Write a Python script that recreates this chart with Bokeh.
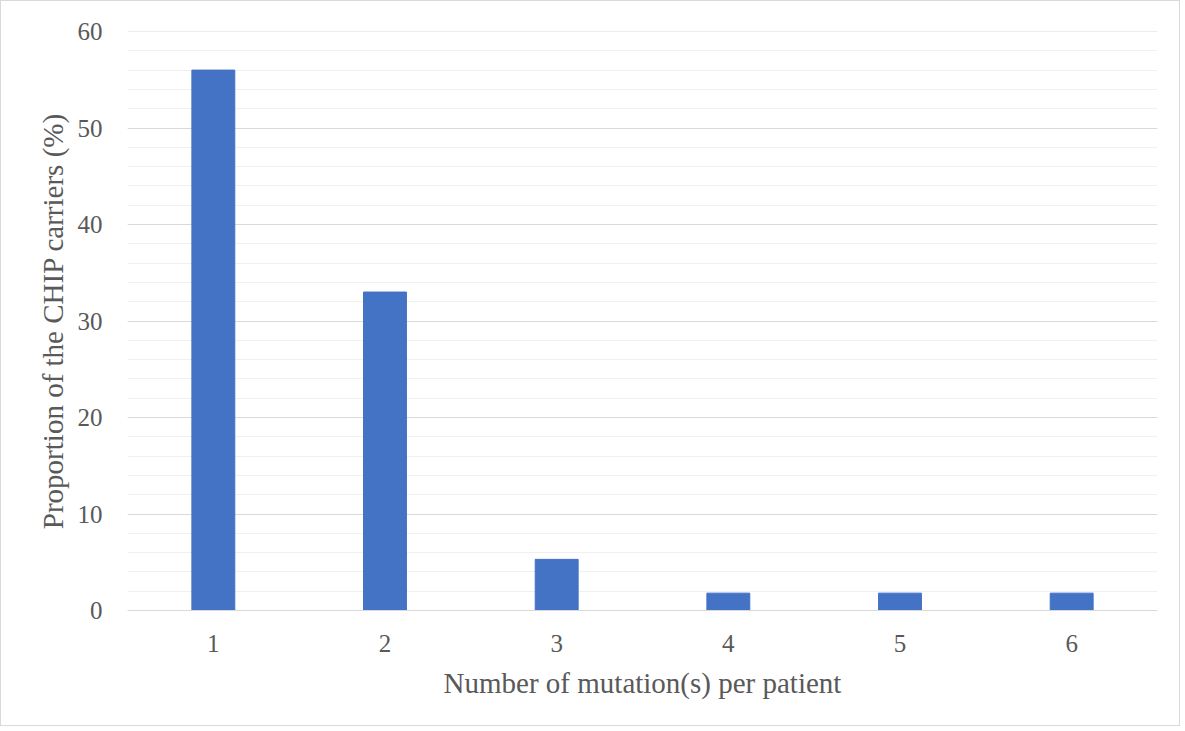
from bokeh.plotting import figure
from bokeh.models import SingleIntervalTicker, Range1d, FactorRange, Span
from bokeh.embed import file_html
from bokeh.resources import INLINE

categories = ["1", "2", "3", "4", "5", "6"]
values = [56, 33, 5.3, 1.8, 1.8, 1.8]

FONT = "Liberation Serif"
TXT = "#595959"

p = figure(width=1180, height=726, x_range=FactorRange(*categories),
           y_range=Range1d(0, 60), output_backend="svg", toolbar_location=None,
           min_border_left=126, min_border_right=24, min_border_top=30, min_border_bottom=117)
p.x_range.range_padding = 0
p.x_range.factor_padding = 0

p.vbar(x=categories, top=values, width=0.25, color="#4472C4")

p.outline_line_color = None
p.border_fill_color = "white"
p.styles = {"border": "1px solid #d9d9d9"}

p.xgrid.grid_line_color = None
p.yaxis.ticker = SingleIntervalTicker(interval=10, num_minor_ticks=5)
p.ygrid.grid_line_color = "#d9d9d9"
p.ygrid.grid_line_width = 1
p.ygrid.minor_grid_line_color = "#f0f0f0"
p.add_layout(Span(location=60, dimension="width", line_color="#d9d9d9", line_width=1))

for ax in (p.xaxis, p.yaxis):
    ax.major_tick_line_color = None
    ax.minor_tick_line_color = None
    ax.major_label_text_font = FONT
    ax.major_label_text_color = TXT
    ax.major_label_text_font_size = "25px"
    ax.axis_label_text_font = FONT
    ax.axis_label_text_color = TXT
    ax.axis_label_text_font_size = "29px"
    ax.axis_label_text_font_style = "normal"

p.xaxis.axis_line_color = "#d9d9d9"
p.yaxis.axis_line_color = None
p.xaxis.major_label_standoff = 18
p.yaxis.major_label_standoff = 19
p.xaxis.axis_label = "Number of mutation(s) per patient"
p.yaxis.axis_label = "Proportion of the CHIP carriers (%)"
p.xaxis.axis_label_standoff = 12
p.yaxis.axis_label_standoff = 6

open("out.html", "w").write(file_html(p, INLINE))
